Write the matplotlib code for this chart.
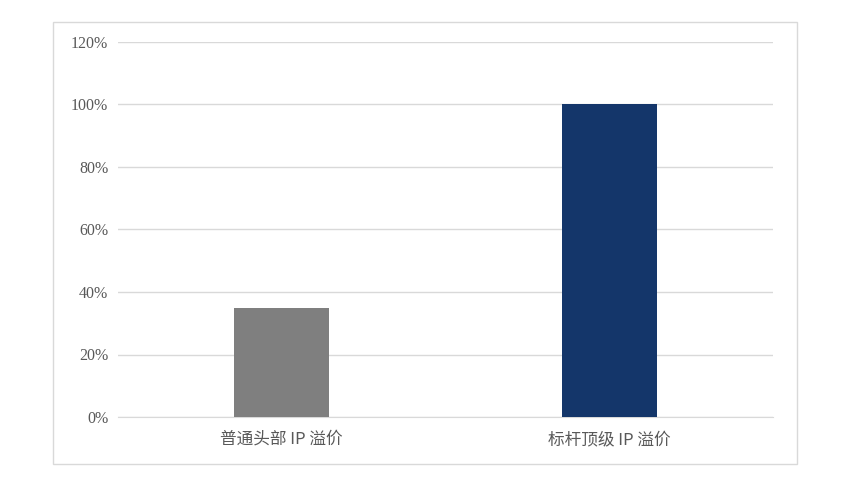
import matplotlib.pyplot as plt
from matplotlib.patches import Rectangle
from matplotlib.ticker import PercentFormatter

categories = ['普通头部 IP 溢价', '标杆顶级 IP 溢价']
values = [0.35, 1.00]
bar_colors = ['#7f7f7f', '#14366a']
y_ticks = [0, 0.2, 0.4, 0.6, 0.8, 1.0, 1.2]

W, H = 846, 496
fig = plt.figure(figsize=(W / 100, H / 100), dpi=100)

# outer frame of the chart
fig.patches.append(Rectangle((53 / W, 1 - 464 / H), (797 - 53) / W, (464 - 22) / H,
                             transform=fig.transFigure, fill=False,
                             edgecolor='#d9d9d9', linewidth=1.0))

ax = fig.add_axes([118 / W, 1 - 417 / H, (773 - 118) / W, (417 - 42) / H])
ax.bar(range(len(categories)), values, width=0.29, color=bar_colors, zorder=3)

ax.set_xlim(-0.5, 1.5)
ax.set_ylim(0, 1.2)
ax.set_yticks(y_ticks)
ax.yaxis.set_major_formatter(PercentFormatter(1.0, decimals=0))
ax.set_xticks(range(len(categories)))
ax.set_xticklabels(categories, family=['Noto Sans CJK SC', 'DejaVu Sans'],
                   fontsize=12, color='#595959')
for lab in ax.get_yticklabels():
    lab.set_family('Liberation Serif')
    lab.set_fontsize(11.5)
    lab.set_color('#595959')

ax.grid(axis='y', color='#d9d9d9', linewidth=1.0, zorder=0)
ax.tick_params(length=0)
ax.tick_params(axis='x', pad=10)
ax.tick_params(axis='y', pad=7)
for side in ['top', 'right', 'left']:
    ax.spines[side].set_visible(False)
ax.spines['bottom'].set_color('#d9d9d9')

fig.savefig('out.png', dpi=100)
